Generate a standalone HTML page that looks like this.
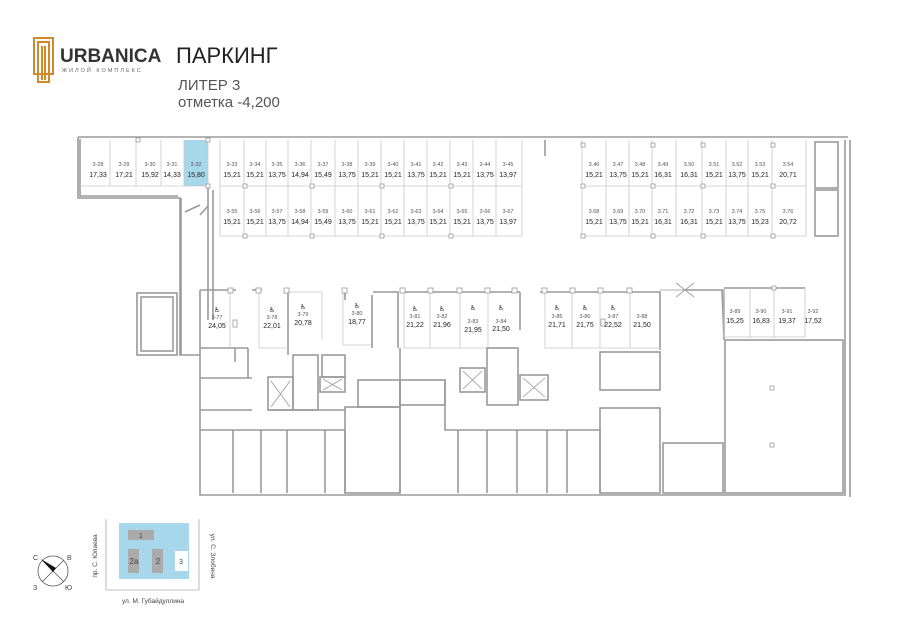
<!DOCTYPE html>
<html><head><meta charset="utf-8"><style>
html,body{margin:0;padding:0;background:#fff;}
body{width:900px;height:636px;overflow:hidden;position:relative;font-family:"Liberation Sans",sans-serif;}
svg{position:absolute;left:0;top:0;}
.w{fill:none;stroke:#9a9a9a;stroke-width:1.6;}
.t{fill:none;stroke:#c8c8c8;stroke-width:0.8;}
.n{font-size:5.5px;fill:#555;text-anchor:middle;}
.a{font-size:7px;fill:#222;text-anchor:middle;}
.h{font-size:7px;fill:#222;text-anchor:middle;font-family:"DejaVu Sans",sans-serif;}
</style></head><body>
<svg width="900" height="636" viewBox="0 0 900 636">
<!-- logo -->
<g fill="none" stroke="#d08a2a" stroke-width="2">
<rect x="34" y="38" width="19" height="36"/>
<rect x="38" y="42" width="11" height="32"/>
<path d="M42 46 V80 M45 46 V80 M38 74 V82 H49 V74"/>
</g>
<text x="60" y="62" font-size="19" font-weight="bold" fill="#333" font-family="Liberation Sans">URBANICA</text>
<text x="62" y="72" font-size="5.5" fill="#666" letter-spacing="2">ЖИЛОЙ КОМПЛЕКС</text>
<text x="176" y="63" font-size="22" fill="#222">ПАРКИНГ</text>
<text x="178" y="90" font-size="15" fill="#555">ЛИТЕР 3</text>
<text x="178" y="107" font-size="15" fill="#555">отметка -4,200</text>

<!-- outer walls -->
<path class="w" d="M78 137 H848 M78 137 V198 H180 V355 H200 M181 198 V355"/>
<path class="w" d="M80 139 V196 H178"/>
<path class="w" d="M845 140 V495 H200 V290 M850 140 V497"/>
<rect class="w" x="137" y="293" width="40" height="62"/>
<rect class="w" x="141" y="297" width="32" height="54"/>
<!-- top rows -->
<rect x="184" y="140" width="24" height="46" fill="#a7d7ea"/>
<path class="t" d="M80 186 H208 M110 140 V186 M136 140 V186 M161 140 V186 M184 140 V186 M208 140 V186"/>
<path class="w" d="M208 186 V320 M213 190 V320 M185 212 L200 205 M200 215 L208 206"/>
<path class="t" d="M220 140 V236 H522 M220 186 H522 M522 140 V236"/>
<path class="t" d="M244 140V236 M266 140V236 M288 140V236 M311 140V236 M335 140V236 M358 140V236 M381 140V236 M404 140V236 M427 140V236 M450 140V236 M473 140V236 M496 140V236"/>
<path class="t" d="M582 140 V236 H806 V140 M582 186 H806 M606 140V236 M629 140V236 M652 140V236 M676 140V236 M702 140V236 M726 140V236 M748 140V236 M772 140V236"/>
<path class="w" d="M545 140 V156"/>
<rect class="w" x="815" y="142" width="23" height="46"/>
<rect class="w" x="815" y="190" width="23" height="46"/>
<g fill="#fff" stroke="#999" stroke-width="0.8">
<rect x="206" y="184" width="4" height="4"/><rect x="206" y="138" width="4" height="4"/><rect x="136" y="138" width="4" height="4"/>
<rect x="243" y="184" width="4" height="4"/><rect x="310" y="184" width="4" height="4"/><rect x="380" y="184" width="4" height="4"/><rect x="449" y="184" width="4" height="4"/>
<rect x="243" y="234" width="4" height="4"/><rect x="310" y="234" width="4" height="4"/><rect x="380" y="234" width="4" height="4"/><rect x="449" y="234" width="4" height="4"/>
<rect x="581" y="184" width="4" height="4"/><rect x="651" y="184" width="4" height="4"/><rect x="701" y="184" width="4" height="4"/><rect x="771" y="184" width="4" height="4"/>
<rect x="581" y="234" width="4" height="4"/><rect x="651" y="234" width="4" height="4"/><rect x="701" y="234" width="4" height="4"/><rect x="771" y="234" width="4" height="4"/>
<rect x="581" y="143" width="4" height="4"/><rect x="651" y="143" width="4" height="4"/><rect x="701" y="143" width="4" height="4"/><rect x="771" y="143" width="4" height="4"/>
</g>
<!-- top labels -->
<g>
<text class="n" x="98" y="166">3-28</text><text class="a" x="98" y="177">17,33</text>
<text class="n" x="124" y="166">3-29</text><text class="a" x="124" y="177">17,21</text>
<text class="n" x="150" y="166">3-30</text><text class="a" x="150" y="177">15,92</text>
<text class="n" x="172" y="166">3-31</text><text class="a" x="172" y="177">14,33</text>
<text class="n" x="196" y="166">3-32</text><text class="a" x="196" y="177">15,80</text>
<text class="n" x="232" y="166">3-33</text><text class="a" x="232" y="177">15,21</text>
<text class="n" x="255" y="166">3-34</text><text class="a" x="255" y="177">15,21</text>
<text class="n" x="277" y="166">3-35</text><text class="a" x="277" y="177">13,75</text>
<text class="n" x="300" y="166">3-36</text><text class="a" x="300" y="177">14,94</text>
<text class="n" x="323" y="166">3-37</text><text class="a" x="323" y="177">15,49</text>
<text class="n" x="347" y="166">3-38</text><text class="a" x="347" y="177">13,75</text>
<text class="n" x="370" y="166">3-39</text><text class="a" x="370" y="177">15,21</text>
<text class="n" x="393" y="166">3-40</text><text class="a" x="393" y="177">15,21</text>
<text class="n" x="416" y="166">3-41</text><text class="a" x="416" y="177">13,75</text>
<text class="n" x="438" y="166">3-42</text><text class="a" x="438" y="177">15,21</text>
<text class="n" x="462" y="166">3-43</text><text class="a" x="462" y="177">15,21</text>
<text class="n" x="485" y="166">3-44</text><text class="a" x="485" y="177">13,75</text>
<text class="n" x="508" y="166">3-45</text><text class="a" x="508" y="177">13,97</text>
<text class="n" x="232" y="213">3-55</text><text class="a" x="232" y="224">15,21</text>
<text class="n" x="255" y="213">3-56</text><text class="a" x="255" y="224">15,21</text>
<text class="n" x="277" y="213">3-57</text><text class="a" x="277" y="224">13,75</text>
<text class="n" x="300" y="213">3-58</text><text class="a" x="300" y="224">14,94</text>
<text class="n" x="323" y="213">3-59</text><text class="a" x="323" y="224">15,49</text>
<text class="n" x="347" y="213">3-60</text><text class="a" x="347" y="224">13,75</text>
<text class="n" x="370" y="213">3-61</text><text class="a" x="370" y="224">15,21</text>
<text class="n" x="393" y="213">3-62</text><text class="a" x="393" y="224">15,21</text>
<text class="n" x="416" y="213">3-63</text><text class="a" x="416" y="224">13,75</text>
<text class="n" x="438" y="213">3-64</text><text class="a" x="438" y="224">15,21</text>
<text class="n" x="462" y="213">3-65</text><text class="a" x="462" y="224">15,21</text>
<text class="n" x="485" y="213">3-66</text><text class="a" x="485" y="224">13,75</text>
<text class="n" x="508" y="213">3-67</text><text class="a" x="508" y="224">13,97</text>
<text class="n" x="594" y="166">3.46</text><text class="a" x="594" y="177">15,21</text>
<text class="n" x="618" y="166">3.47</text><text class="a" x="618" y="177">13,75</text>
<text class="n" x="640" y="166">3.48</text><text class="a" x="640" y="177">15,21</text>
<text class="n" x="663" y="166">3.49</text><text class="a" x="663" y="177">16,31</text>
<text class="n" x="689" y="166">3.50</text><text class="a" x="689" y="177">16,31</text>
<text class="n" x="714" y="166">3.51</text><text class="a" x="714" y="177">15,21</text>
<text class="n" x="737" y="166">3.52</text><text class="a" x="737" y="177">13,75</text>
<text class="n" x="760" y="166">3.53</text><text class="a" x="760" y="177">15,21</text>
<text class="n" x="788" y="166">3.54</text><text class="a" x="788" y="177">20,71</text>
<text class="n" x="594" y="213">3.68</text><text class="a" x="594" y="224">15,21</text>
<text class="n" x="618" y="213">3.69</text><text class="a" x="618" y="224">13,75</text>
<text class="n" x="640" y="213">3.70</text><text class="a" x="640" y="224">15,21</text>
<text class="n" x="663" y="213">3.71</text><text class="a" x="663" y="224">16,31</text>
<text class="n" x="689" y="213">3.72</text><text class="a" x="689" y="224">16,31</text>
<text class="n" x="714" y="213">3.73</text><text class="a" x="714" y="224">15,21</text>
<text class="n" x="737" y="213">3.74</text><text class="a" x="737" y="224">13,75</text>
<text class="n" x="760" y="213">3.75</text><text class="a" x="760" y="224">15,23</text>
<text class="n" x="788" y="213">3.76</text><text class="a" x="788" y="224">20,72</text>
</g>
<!-- row 3 parking -->
<path class="w" d="M200 290 H236 M252 290 H262 M200 348 H248 M235 348 V362 M288 290 V355 M345 290 V300 M373 292 H398 V348 M404 292 H520 M520 292 V330 M540 292 H660 V350 M686 290 H724 V340 M724 288 H805 M722 290 L724 340"/>
<path class="t" d="M230 290 V348 M259 292 V348 H288 M288 292 H322 M322 292 V340 M343 292 V345 H372 M404 292 V348 H488 M430 292 V348 M460 292 V348 H515 M488 292 V348 M545 292 V348 H660 M572 292 V348 M600 292 V348 M630 292 V348 M724 288 V337 H805 V288 M750 288 V337 M774 288 V337"/>
<path stroke="#999" stroke-width="0.8" d="M676 283 L694 297 M694 283 L676 297 M660 290 H708"/>
<g fill="#fff" stroke="#999" stroke-width="0.8">
<rect x="228" y="288" width="5" height="5"/><rect x="256" y="288" width="5" height="5"/><rect x="284" y="288" width="5" height="5"/><rect x="342" y="288" width="5" height="5"/>
<rect x="400" y="288" width="5" height="5"/><rect x="428" y="288" width="5" height="5"/><rect x="457" y="288" width="5" height="5"/><rect x="485" y="288" width="5" height="5"/><rect x="512" y="288" width="5" height="5"/>
<rect x="542" y="288" width="5" height="5"/><rect x="570" y="288" width="5" height="5"/><rect x="598" y="288" width="5" height="5"/><rect x="627" y="288" width="5" height="5"/><rect x="772" y="286" width="4" height="4"/>
<rect x="233" y="320" width="4" height="7"/><rect x="601" y="319" width="4" height="7"/>
</g>
<g>
<text class="h" x="217" y="312">♿</text><text class="n" x="217" y="319">3-77</text><text class="a" x="217" y="328">24,05</text>
<text class="h" x="272" y="312">♿</text><text class="n" x="272" y="319">3-78</text><text class="a" x="272" y="328">22,01</text>
<text class="h" x="303" y="309">♿</text><text class="n" x="303" y="316">3-79</text><text class="a" x="303" y="325">20,78</text>
<text class="h" x="357" y="308">♿</text><text class="n" x="357" y="315">3-80</text><text class="a" x="357" y="324">18,77</text>
<text class="h" x="415" y="311">♿</text><text class="n" x="415" y="318">3-81</text><text class="a" x="415" y="327">21,22</text>
<text class="h" x="442" y="311">♿</text><text class="n" x="442" y="318">3-82</text><text class="a" x="442" y="327">21,96</text>
<text class="h" x="473" y="310">♿</text><text class="n" x="473" y="323">3-83</text><text class="a" x="473" y="332">21,95</text>
<text class="h" x="501" y="310">♿</text><text class="n" x="501" y="323">3-84</text><text class="a" x="501" y="331">21,50</text>
<text class="h" x="557" y="310">♿</text><text class="n" x="557" y="318">3-85</text><text class="a" x="557" y="327">21,71</text>
<text class="h" x="585" y="310">♿</text><text class="n" x="585" y="318">3-86</text><text class="a" x="585" y="327">21,75</text>
<text class="h" x="613" y="310">♿</text><text class="n" x="613" y="318">3-87</text><text class="a" x="613" y="327">22,52</text>
<text class="n" x="642" y="318">3-88</text><text class="a" x="642" y="327">21,50</text>
<text class="n" x="735" y="313">3-89</text><text class="a" x="735" y="323">15,25</text>
<text class="n" x="761" y="313">3-90</text><text class="a" x="761" y="323">16,83</text>
<text class="n" x="787" y="313">3-91</text><text class="a" x="787" y="323">19,37</text>
<text class="n" x="813" y="313">3-92</text><text class="a" x="813" y="323">17,52</text>
</g>
<!-- lower interior -->
<path class="w" d="M200 378 H252 M200 410 H252 M268 410 H345 M200 430 H345 M248 348 V378 M345 430 V493"/>
<rect class="w" x="268" y="377" width="25" height="33"/>
<rect class="w" x="293" y="355" width="25" height="55"/>
<rect class="w" x="322" y="355" width="23" height="22"/>
<rect class="w" x="320" y="377" width="25" height="15"/>
<rect class="w" x="358" y="380" width="42" height="27"/>
<rect class="w" x="345" y="407" width="55" height="86"/>
<path class="w" d="M233 430 V493 M261 430 V493 M287 430 V493 M325 430 V493 M400 348 V493 M372 295 V348"/>
<rect class="w" x="400" y="380" width="45" height="25"/>
<path class="w" d="M445 380 V430 H600 M458 430 V493 M487 430 V493 M517 430 V493 M547 430 V493 M567 430 V493 M600 430 V493"/>
<rect class="w" x="487" y="348" width="31" height="57"/>
<rect class="w" x="460" y="368" width="25" height="24"/>
<rect class="w" x="520" y="375" width="28" height="25"/>
<rect class="w" x="600" y="352" width="60" height="38"/>
<rect class="w" x="600" y="408" width="60" height="85"/>
<rect class="w" x="663" y="443" width="60" height="50"/>
<rect class="w" x="725" y="340" width="118" height="153"/>
<g stroke="#999" stroke-width="0.8" fill="none">
<path d="M271 381 L290 407 M290 381 L271 407 M463 371 L482 389 M482 371 L463 389 M523 378 L545 397 M545 378 L523 397 M323 379 L342 390 M342 379 L323 390"/>
<rect x="770" y="386" width="4" height="4"/><rect x="770" y="443" width="4" height="4"/>
</g>
<!-- compass & mini map -->
<circle cx="53" cy="571" r="15" fill="none" stroke="#555" stroke-width="0.8"/>
<path d="M42 560 L64 582 M64 560 L42 582" stroke="#555" stroke-width="0.8"/>
<path d="M41 559 L56 568 L53 572 Z" fill="#111"/>
<text x="33" y="560" font-size="7" fill="#444">С</text><text x="67" y="560" font-size="7" fill="#444">В</text>
<text x="33" y="590" font-size="7" fill="#444">З</text><text x="65" y="590" font-size="7" fill="#444">Ю</text>
<path d="M106 519 V590 H199 V519" fill="none" stroke="#aaa" stroke-width="0.8"/>
<rect x="119" y="523" width="70" height="56" fill="#a7d7ea"/>
<rect x="128" y="530" width="26" height="10" fill="#aaa"/>
<rect x="128" y="549" width="11" height="24" fill="#aaa"/>
<rect x="152" y="549" width="11" height="24" fill="#aaa"/>
<rect x="175" y="551" width="13" height="20" fill="#fff"/>
<text x="141" y="538" font-size="7" fill="#444" text-anchor="middle">1</text>
<text x="134" y="564" font-size="8" fill="#444" text-anchor="middle">2а</text>
<text x="158" y="564" font-size="8" fill="#444" text-anchor="middle">2</text>
<text x="181" y="564" font-size="7" fill="#444" text-anchor="middle">3</text>
<text x="153" y="603" font-size="6.5" fill="#444" text-anchor="middle">ул. М. Губайдуллина</text>
<text transform="translate(97,556) rotate(-90)" font-size="6.5" fill="#444" text-anchor="middle">пр. С. Юлаева</text>
<text transform="translate(211,556) rotate(90)" font-size="6.5" fill="#444" text-anchor="middle">ул. С. Злобина</text>
</svg>
</body></html>
